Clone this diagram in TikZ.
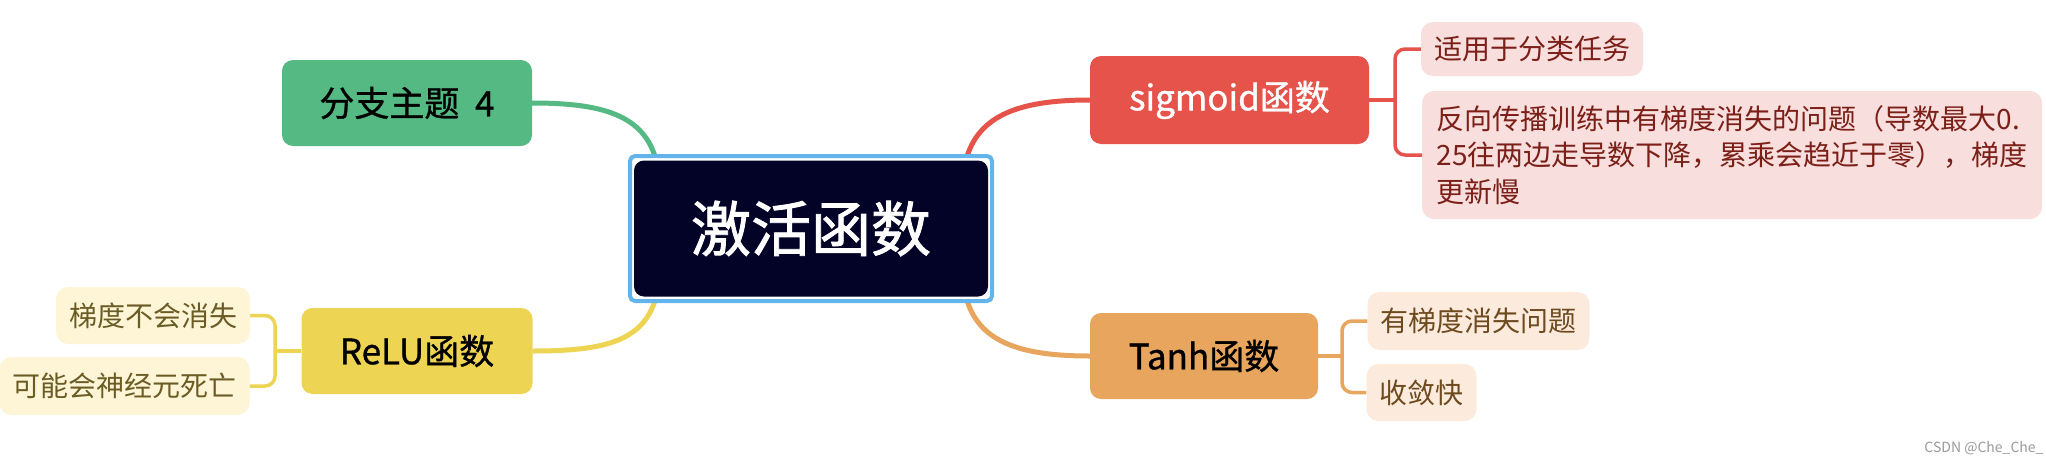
\documentclass[tikz,border=0pt]{standalone}
\usepackage{fontspec}
\newfontfamily\cjk{Noto Sans CJK SC}
\newfontfamily\cjkmed[FakeBold=0.9]{Noto Sans CJK SC}
\newfontfamily\cjkbig[FakeBold=1.4]{Noto Sans CJK SC}
\usetikzlibrary{backgrounds}
\definecolor{cgreen}{HTML}{55B983}
\definecolor{cred}{HTML}{E5534B}
\definecolor{corange}{HTML}{E8A55D}
\definecolor{cyellow}{HTML}{EDD452}
\definecolor{cdark}{HTML}{020326}
\definecolor{cblue}{HTML}{64B4EC}
\definecolor{sfill}{HTML}{F8DEDC}
\definecolor{stext}{HTML}{7B1F18}
\definecolor{tfill}{HTML}{FCEBDD}
\definecolor{ttext}{HTML}{6E4A1F}
\definecolor{rfill}{HTML}{FDF5D6}
\definecolor{rtext}{HTML}{6B5C26}
\definecolor{wmark}{HTML}{9A9A9A}
\tikzset{
  mainbox/.style={rounded corners=11pt, inner sep=0pt, font=\cjkmed\fontsize{35}{42}\selectfont},
  subbox/.style={rounded corners=12pt, inner xsep=13pt, inner ysep=0pt, font=\cjk\fontsize{28}{36.4}\selectfont},
  branch/.style={line width=5pt},
  bracket/.style={line width=3.5pt, rounded corners=10pt},
}
\begin{document}
\begin{tikzpicture}[x=1pt,y=-1pt]
\useasboundingbox (0,0) rectangle (2046,466);
% central
\node[draw=cblue, line width=4pt, fill=white, rounded corners=5pt, minimum width=362pt, minimum height=145pt] (rootframe) at (811,228.5) {};
\node[fill=cdark, rounded corners=10pt, minimum width=354pt, minimum height=136pt, text=white, font=\cjkbig\fontsize{60}{72}\selectfont] (root) at (811,228.5) {激活函数};
% main branches
\node[mainbox, fill=cgreen, minimum width=250pt, minimum height=86pt, text=black] (b4) at (407,103) {分支主题\hspace{0.45em}4};
\node[mainbox, fill=cred, minimum width=279pt, minimum height=88pt, text=white] (sig) at (1229.5,100) {sigmoid函数};
\node[mainbox, fill=corange, minimum width=228pt, minimum height=86pt, text=black] (tanh) at (1204,356) {Tanh函数};
\node[mainbox, fill=cyellow, minimum width=231pt, minimum height=86pt, text=black] (relu) at (417,351) {ReLU函数};
% sub nodes
\node[subbox, fill=sfill, text=stext, minimum width=220pt, minimum height=54pt] (s1) at (1532,49) {适用于分类任务};
\node[subbox, fill=sfill, text=stext, minimum width=620pt, minimum height=128pt, align=left] (s2) at (1732,155) {反向传播训练中有梯度消失的问题（导数最大0.\\25往两边走导数下降，累乘会趋近于零），梯度\\更新慢};
\node[subbox, fill=tfill, text=ttext, minimum width=221pt, minimum height=58pt] (t1) at (1478.5,321) {有梯度消失问题};
\node[subbox, fill=tfill, text=ttext, minimum width=107pt, minimum height=57pt] (t2) at (1421.5,392.5) {收敛快};
\node[subbox, fill=rfill, text=rtext, minimum width=192pt, minimum height=57pt] (r1) at (153,315.5) {梯度不会消失};
\node[subbox, fill=rfill, text=rtext, minimum width=249pt, minimum height=58pt] (r2) at (124.5,386) {可能会神经元死亡};
% watermark
\node[text=wmark, font=\cjk\fontsize{14}{16}\selectfont, inner sep=0pt] (wm) at (1984,448) {CSDN @Che\_Che\_};
% junction coordinates
\coordinate (sj) at (1395,100);
\coordinate (tj) at (1342,356);
\coordinate (rj) at (275,351);
\coordinate (gend) at (656,160);
\coordinate (rend) at (966,160);
\coordinate (oend) at (966,297);
\coordinate (yend) at (656,297);
\begin{scope}[on background layer]
\fill[white] (0,0) rectangle (2046,466);
\draw[branch, cgreen] (b4.east) .. controls +(70,0) and +(-12,-45) .. (gend);
\draw[branch, cred] (sig.west) .. controls +(-70,0) and +(12,-45) .. (rend);
\draw[branch, corange] (tanh.west) .. controls +(-70,0) and +(12,45) .. (oend);
\draw[branch, cyellow] (relu.east) .. controls +(70,0) and +(-12,45) .. (yend);
\draw[bracket, cred] (sig.east) -- (sj);
\draw[bracket, cred] (s1.west) -| (sj) |- (s2.west);
\draw[bracket, corange] (tanh.east) -- (tj);
\draw[bracket, corange] (t1.west) -| (tj) |- (t2.west);
\draw[bracket, cyellow] (relu.west) -- (rj);
\draw[bracket, cyellow] (r1.east) -| (rj) |- (r2.east);
\end{scope}
\end{tikzpicture}
\end{document}
